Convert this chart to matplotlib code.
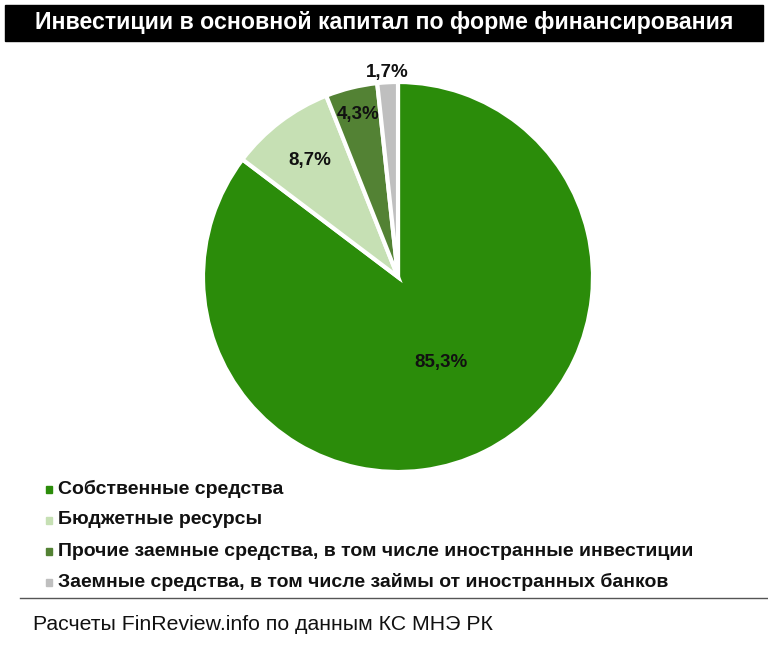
import numpy as np
import matplotlib.pyplot as plt
from matplotlib.patches import Rectangle

plt.rcParams['font.family'] = ['Liberation Sans', 'DejaVu Sans']

# data
title = 'Инвестиции в основной капитал по форме финансирования'
categories = ['Собственные средства',
              'Бюджетные ресурсы',
              'Прочие заемные средства, в том числе иностранные инвестиции',
              'Заемные средства, в том числе займы от иностранных банков']
shares = [85.3, 8.7, 4.3, 1.7]
colors = ['#2b8c0a', '#c6e0b4', '#538234', '#bfbfbf']
source = 'Расчеты FinReview.info по данным КС МНЭ РК'

W, H = 768, 649
fig = plt.figure(figsize=(W / 100, H / 100), dpi=100)
ax = fig.add_axes([0, 0, 1, 1])

cx, cy, R = 398, H - 277, 195
wedges, _ = ax.pie(shares, colors=colors, startangle=90, counterclock=False,
                   center=(cx, cy), radius=R,
                   wedgeprops=dict(edgecolor='white', linewidth=3))
ax.set_xlim(0, W)
ax.set_ylim(0, H)
ax.set_aspect('auto')
ax.axis('off')

# percentage labels
label_r = [0.49, 0.75, 0.86, 1.05]
for w, v, k in zip(wedges, shares, label_r):
    ang = np.deg2rad((w.theta1 + w.theta2) / 2)
    ax.text(cx + k * R * np.cos(ang), cy + k * R * np.sin(ang),
            ('%.1f%%' % v).replace('.', ','), ha='center', va='center',
            fontsize=13.5, fontweight='bold', color='#111111')

# title bar
ax.add_patch(Rectangle((5, H - 41), 758, 36, color='black'))
ax.text(W / 2, H - 23, title, ha='center', va='center', color='white',
        fontsize=16.7, fontweight='bold')

# legend
for i, (c, lab) in enumerate(zip(colors, categories)):
    y = H - (489 + 31 * i)
    ax.add_patch(Rectangle((46, y - 3.5), 6, 7, color=c))
    ax.text(58, y, lab, ha='left', va='center', fontsize=14,
            fontweight='bold', color='#111111')

ax.plot([20, W], [H - 598, H - 598], color='#555555', linewidth=1)
ax.text(33, H - 624, source, ha='left', va='center', fontsize=15.3, color='#111111')

plt.savefig('out.png', dpi=100)
